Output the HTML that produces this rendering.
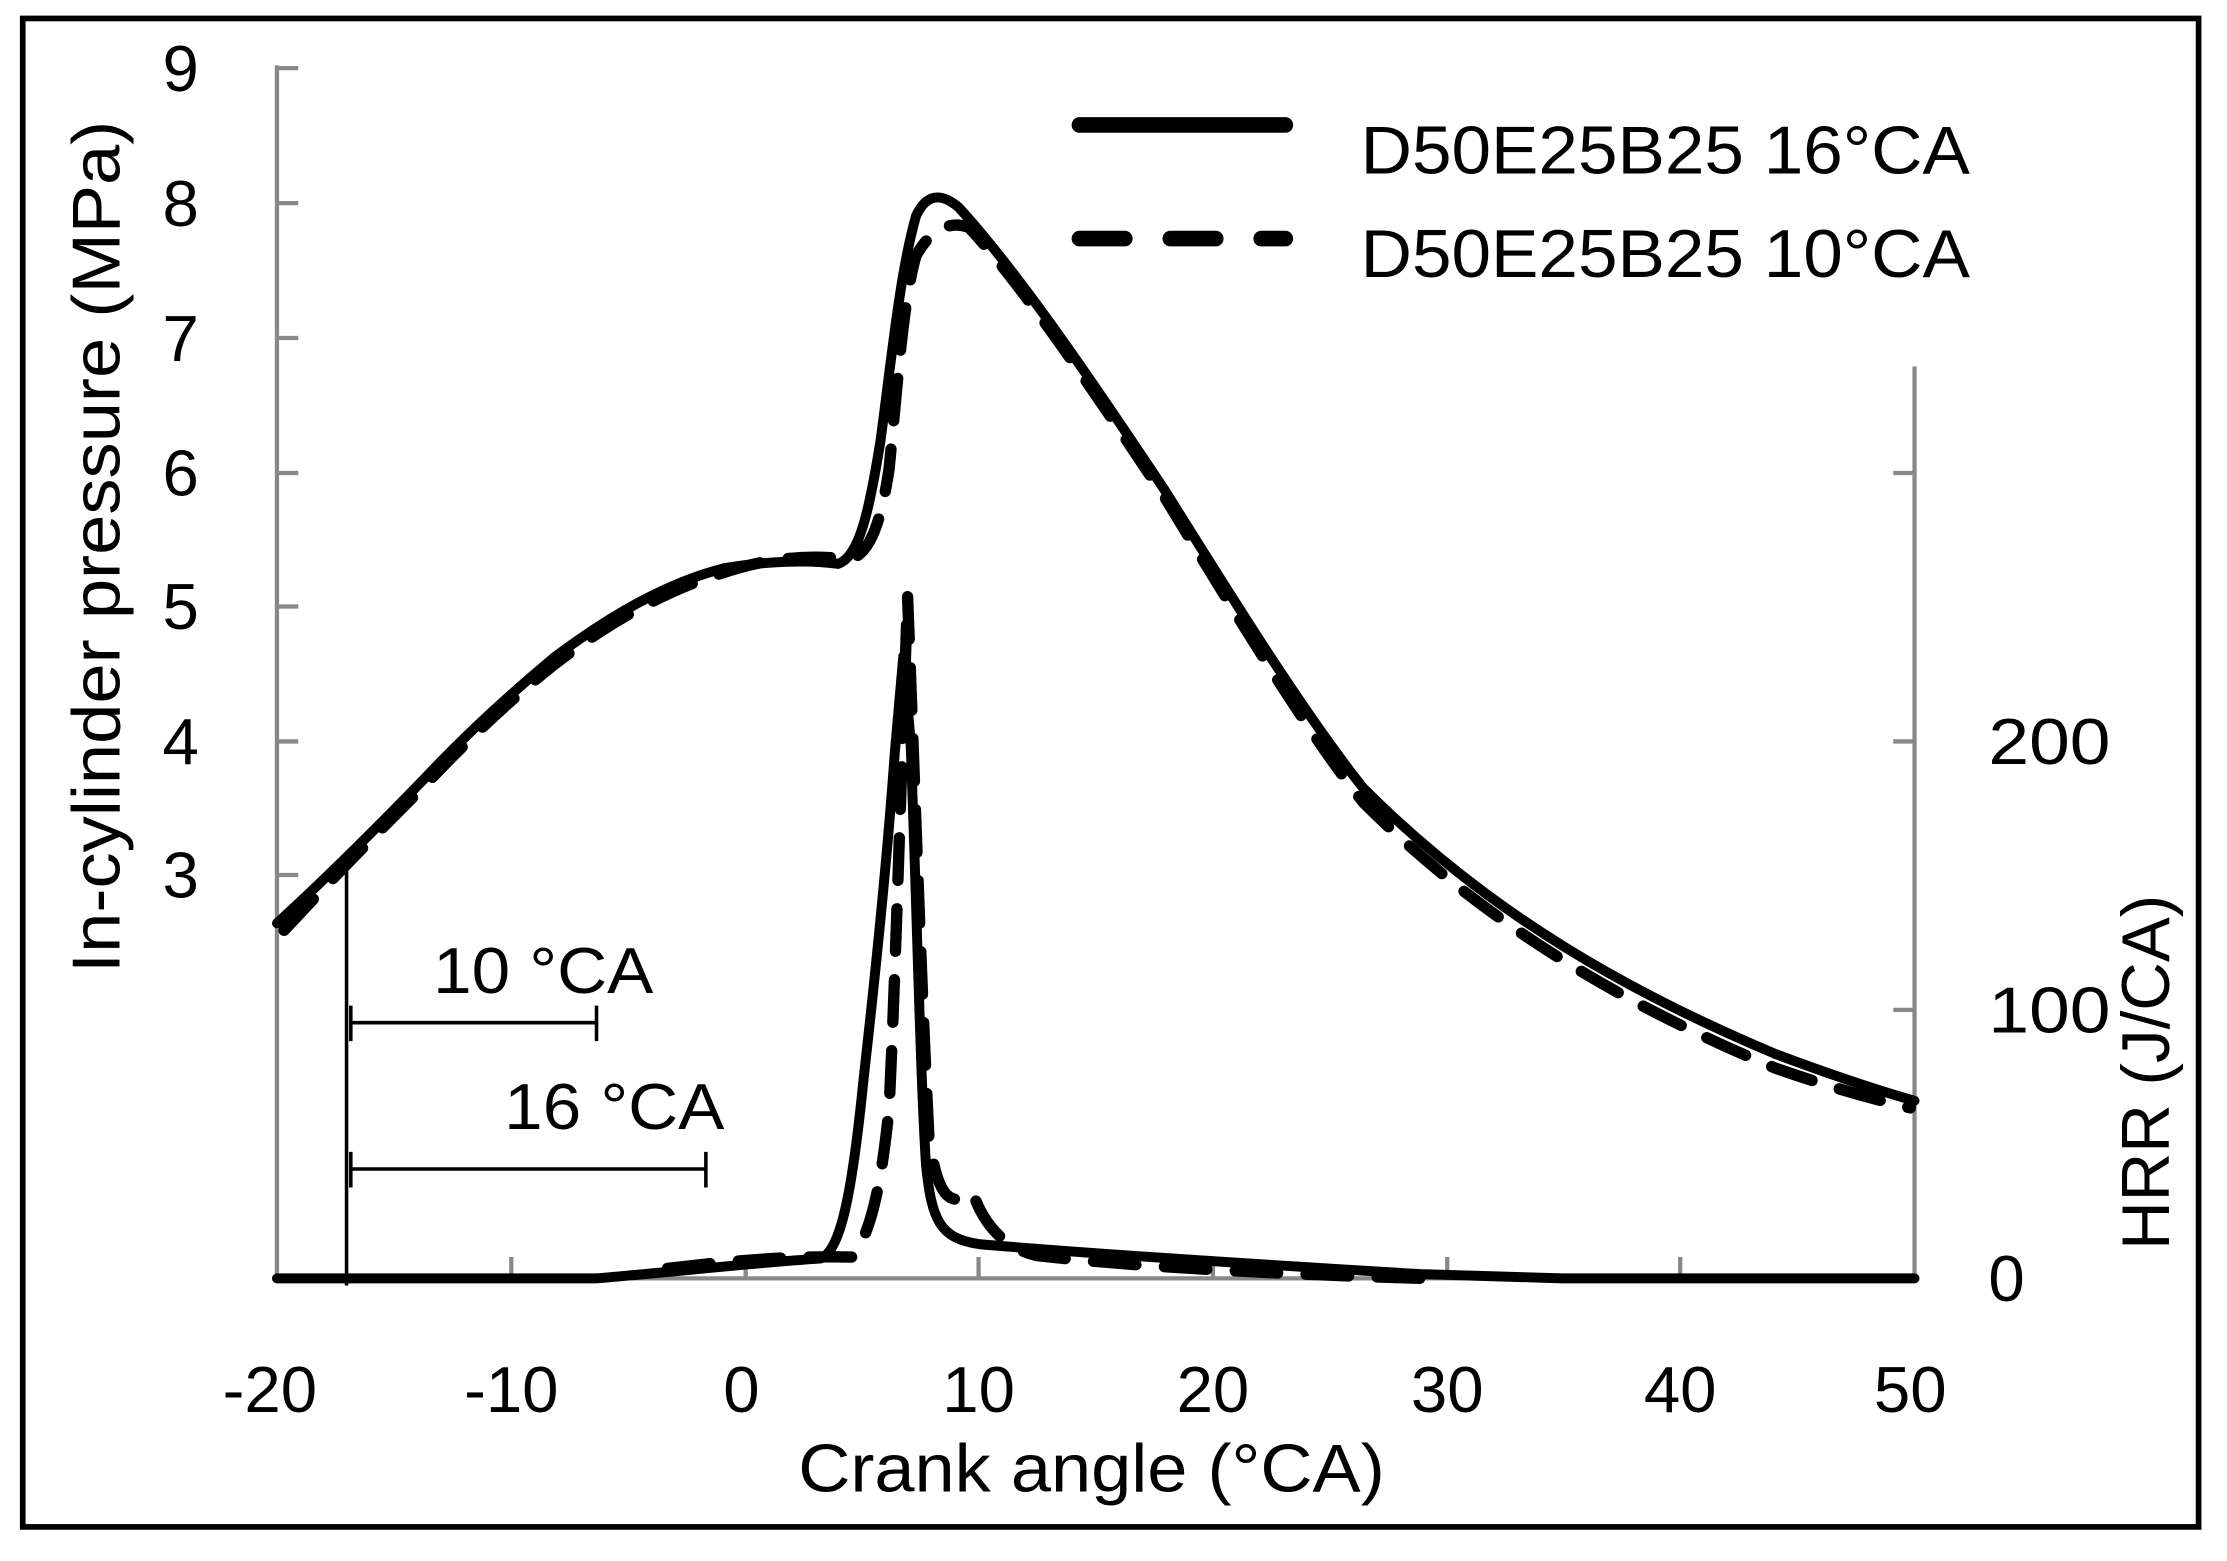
<!DOCTYPE html>
<html><head><meta charset="utf-8"><style>
html,body{margin:0;padding:0;background:#fff;}
svg{display:block;}
text{font-family:"Liberation Sans",sans-serif;fill:#000;}
</style></head><body>
<svg width="2227" height="1561" viewBox="0 0 1568 1099" preserveAspectRatio="none" xmlns="http://www.w3.org/2000/svg">
<rect x="0" y="0" width="1568" height="1099" fill="#fff"/>
<rect x="16" y="13" width="1532" height="1062" fill="none" stroke="#000" stroke-width="4"/>
<g stroke="#888" stroke-width="3" fill="none">
<line x1="195" y1="46" x2="195" y2="901"/>
<line x1="195" y1="900" x2="1349" y2="900"/>
<line x1="1348" y1="258" x2="1348" y2="901"/>
<path d="M195 48h15M195 143h15M195 238h15M195 333h15M195 427h15M195 522h15M195 616h15"/>
<path d="M360 900v-15M525 900v-15M689 900v-15M854 900v-15M1019 900v-15M1183 900v-15"/>
<path d="M1348 711h-15M1348 522h-15M1348 333h-15"/>
</g>
<g font-size="46" text-anchor="end">
<text x="140" y="64">9</text><text x="140" y="159">8</text><text x="140" y="254">7</text><text x="140" y="349">6</text><text x="140" y="443">5</text><text x="140" y="538">4</text><text x="140" y="632">3</text>
</g>
<g font-size="46" text-anchor="start">
<text x="1400" y="538" textLength="86" lengthAdjust="spacingAndGlyphs">200</text><text x="1400" y="727" textLength="86" lengthAdjust="spacingAndGlyphs">100</text><text x="1400" y="916">0</text>
</g>
<g font-size="46" text-anchor="middle">
<text x="190" y="994">-20</text><text x="360" y="994">-10</text><text x="522" y="994">0</text><text x="689" y="994">10</text><text x="854" y="994">20</text><text x="1019" y="994">30</text><text x="1183" y="994">40</text><text x="1345" y="994">50</text>
</g>
<g font-size="48">
<text x="562" y="1050" textLength="413" lengthAdjust="spacingAndGlyphs">Crank angle (°CA)</text>
<text transform="translate(84,685) rotate(-90)" textLength="600" lengthAdjust="spacingAndGlyphs">In-cylinder pressure  (MPa)</text>
<text transform="translate(1527,880) rotate(-90)" textLength="250" lengthAdjust="spacingAndGlyphs">HRR (J/CA)</text>
</g>
<line x1="760" y1="88" x2="905" y2="88" stroke="#000" stroke-width="11" stroke-linecap="round"/>
<line x1="760" y1="168" x2="905" y2="168" stroke="#000" stroke-width="11" stroke-linecap="round" stroke-dasharray="32 32"/>
<g font-size="48"><text x="958" y="122" textLength="429" lengthAdjust="spacingAndGlyphs">D50E25B25 16°CA</text><text x="958" y="195" textLength="429" lengthAdjust="spacingAndGlyphs">D50E25B25 10°CA</text></g>
<g stroke="#000" stroke-width="2.5" fill="none">
<line x1="244" y1="608" x2="244" y2="905"/>
<path d="M247 708v25M247 720h173M420 708v25"/>
<path d="M247 811v25M247 823h250M497 811v25"/>
</g>
<g font-size="46"><text x="305" y="699" textLength="155" lengthAdjust="spacingAndGlyphs">10 °CA</text><text x="355" y="795" textLength="155" lengthAdjust="spacingAndGlyphs">16 °CA</text></g>
<g fill="none" stroke="#000" stroke-width="7" stroke-linejoin="round" stroke-linecap="round">
<path d="M195 650 C230 618 270 578 300 547 C330 515 360 488 390 463 C430 433 470 410 510 400 C540 395 570 394 590 397 C605 392 612 360 620 310 C628 250 634 190 645 152 C652 137 662 135 675 146 C720 195 780 285 820 345 C870 425 920 505 960 555 C1050 645 1150 700 1250 742 C1290 757 1320 767 1348 775"/>
<path d="M195 900 L420 900 C470 896 520 890 578 886 C592 880 600 840 608 760 C617 680 625 600 630 530 L636 462 L641 520 C645 620 648 760 652 820 C656 860 662 872 690 876 C760 882 850 888 1000 897 L1100 900 L1348 900"/>
</g>
<g fill="none" stroke="#000" stroke-width="8" stroke-linejoin="round" stroke-linecap="round" stroke-dasharray="30 20">
<path d="M200 655 C240 612 270 582 300 552 C330 520 360 492 390 468 C430 437 470 415 510 403 C540 393 570 390 598 394 C612 390 620 370 626 330 C632 270 636 210 645 180 C655 162 668 155 682 160 C720 200 780 290 820 350 C870 432 920 515 960 565 C1050 655 1150 710 1250 752 C1290 766 1320 774 1345 780"/>
<path d="M470 893 C520 887 560 884 600 885 C612 870 620 840 626 780 C630 700 634 560 639 420 C643 520 648 680 654 800 C660 845 670 850 685 840 C692 860 705 878 730 884 C800 892 900 897 1000 900"/>
</g>
</svg>
</body></html>
